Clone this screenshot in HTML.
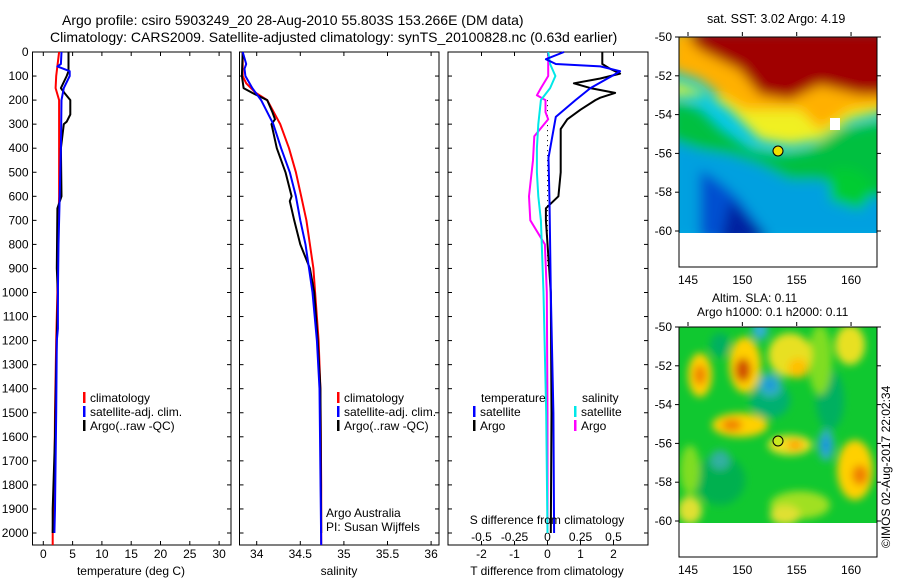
<!DOCTYPE html>
<html><head><meta charset="utf-8">
<style>
html,body{margin:0;padding:0;background:#fff;}
svg{display:block;font-family:"Liberation Sans",sans-serif;font-size:12px;}
</style></head>
<body>
<svg id="fig" width="900" height="580" viewBox="0 0 900 580" xmlns="http://www.w3.org/2000/svg">
<defs>
<filter id="blur6" x="-20%" y="-20%" width="140%" height="140%"><feGaussianBlur stdDeviation="6"/></filter>
<filter id="blur4" x="-20%" y="-20%" width="140%" height="140%"><feGaussianBlur stdDeviation="4"/></filter>
<clipPath id="clipA"><rect x="679" y="37" width="198" height="196"/></clipPath>
<clipPath id="clipB"><rect x="679" y="327" width="198" height="196"/></clipPath>
</defs>
<text x="62" y="25" style="font-size:14px">Argo profile: csiro 5903249_20 28-Aug-2010 55.803S 153.266E (DM data)</text>
<text x="50" y="42" style="font-size:14px">Climatology: CARS2009. Satellite-adjusted climatology: synTS_20100828.nc (0.63d earlier)</text>

<!-- SST map -->
<g>
<text x="707" y="23" style="font-size:12.5px">sat. SST: 3.02  Argo: 4.19</text>
<g clip-path="url(#clipA)">
<rect x="679" y="37" width="198" height="196" fill="#00c8e8"/>
<g filter="url(#blur6)">
<path d="M670 140 L700 150 L730 150 L760 160 L790 170 L830 165 L870 160 L890 150 L890 240 L670 240Z" fill="#00a0e0"/>
<path d="M700 170 Q720 180 740 200 L770 240 L700 240Z" fill="#0050d0"/>
<path d="M730 200 L770 240 L720 245Z" fill="#0020a0"/>
<path d="M670 100 L700 110 L720 130 L750 150 L780 155 L810 150 L840 130 L890 120 L890 200 L850 190 L820 180 L790 180 L760 165 L730 155 L700 150 L670 140Z" fill="#00c040"/>
<path d="M830 170 Q860 160 875 190 L860 210 L830 200Z" fill="#00cc30"/>
<path d="M670 80 L700 90 L730 110 L760 140 L790 145 L820 140 L850 120 L890 110 L890 100 L670 95Z" fill="#f0f020"/>
<path d="M670 30 L890 30 L890 105 L850 110 L820 130 L800 110 L770 110 L745 110 L720 95 L700 80 L670 70Z" fill="#ffb000"/>
<path d="M690 30 L890 30 L890 95 L860 95 L820 85 L790 100 L760 95 L740 70 L720 60 L700 50 L690 40Z" fill="#a00000"/>
</g>
<rect x="830" y="118" width="10" height="12" fill="#fff"/>
</g>
<rect x="679" y="37" width="198" height="230" fill="none" stroke="#000"/>
<circle cx="778" cy="151" r="5" fill="#f0e000" stroke="#000"/>
</g>

<!-- SLA map -->
<g>
<text x="712" y="302">Altim. SLA: 0.11</text>
<text x="697" y="316">Argo h1000: 0.1  h2000: 0.11</text>
<g clip-path="url(#clipB)">
<rect x="679" y="327" width="198" height="196" fill="#10c830"/>
<g filter="url(#blur4)">
<ellipse cx="720" cy="345" rx="10" ry="12" fill="#00b060"/>
<ellipse cx="770" cy="400" rx="20" ry="18" fill="#00b070"/>
<ellipse cx="720" cy="480" rx="25" ry="25" fill="#00b050"/>
<ellipse cx="830" cy="400" rx="14" ry="30" fill="#00b060"/>
<ellipse cx="690" cy="470" rx="10" ry="25" fill="#80dd20"/>
<ellipse cx="820" cy="360" rx="12" ry="35" fill="#80dd20"/>
<ellipse cx="800" cy="505" rx="30" ry="14" fill="#a0e020"/>
<ellipse cx="700" cy="375" rx="12" ry="22" fill="#ffd000"/>
<ellipse cx="700" cy="375" rx="6" ry="10" fill="#f08000"/>
<ellipse cx="745" cy="365" rx="16" ry="28" fill="#ffd000"/>
<ellipse cx="743" cy="370" rx="8" ry="12" fill="#d05000"/>
<ellipse cx="790" cy="355" rx="22" ry="22" fill="#e8e020"/>
<ellipse cx="798" cy="368" rx="10" ry="10" fill="#ffc000"/>
<ellipse cx="770" cy="385" rx="12" ry="12" fill="#30b0c0"/>
<ellipse cx="770" cy="385" rx="5" ry="5" fill="#1090e0"/>
<ellipse cx="760" cy="330" rx="8" ry="10" fill="#30b0d0"/>
<ellipse cx="740" cy="425" rx="28" ry="12" fill="#ffd000"/>
<ellipse cx="732" cy="425" rx="10" ry="6" fill="#f08000"/>
<ellipse cx="790" cy="445" rx="22" ry="10" fill="#f0e020"/>
<ellipse cx="795" cy="445" rx="8" ry="5" fill="#ffa000"/>
<ellipse cx="826" cy="445" rx="8" ry="16" fill="#30b0c0"/>
<ellipse cx="826" cy="445" rx="4" ry="8" fill="#1090e0"/>
<ellipse cx="855" cy="470" rx="18" ry="30" fill="#ffd000"/>
<ellipse cx="860" cy="475" rx="8" ry="10" fill="#f08000"/>
<ellipse cx="850" cy="345" rx="15" ry="20" fill="#e8e020"/>
<ellipse cx="690" cy="510" rx="12" ry="14" fill="#e0e030"/>
<ellipse cx="785" cy="515" rx="15" ry="10" fill="#e0e030"/>
<ellipse cx="720" cy="460" rx="10" ry="10" fill="#30b0a0"/>
</g>
</g>
<rect x="679" y="327" width="198" height="230" fill="none" stroke="#000"/>
<circle cx="778" cy="441" r="5" fill="#c8e820" stroke="#000"/>
<text transform="translate(890,548) rotate(-90)">©IMOS 02-Aug-2017 22:02:34</text>
</g>
<g id="plots"></g>
</svg>
<script>
// ---- data (depth in m) ----
const tempClimDepth=[0,100,150,200,400,600,900,1000,1200,1500,1800,2000,2050];
const tempClimVal=[2.7,2.2,2.1,2.7,2.7,2.7,2.4,2.4,2.2,2.0,1.9,1.6,1.6];
const tempSatDepth=[0,50,60,80,100,150,200,400,600,800,1000,1150,1200,1500,1900,2000];
const tempSatVal=[3.1,3.0,2.4,4.5,4.5,3.5,3.1,3.0,2.8,2.6,2.5,2.5,2.3,2.2,2.0,1.9];
const tempArgoDepth=[0,80,100,150,170,200,260,290,300,400,600,650,900,1000,1300,1600,1900,2000];
const tempArgoVal=[4.3,4.3,4.0,3.0,3.6,4.6,4.6,4.0,3.5,3.0,3.1,2.4,2.3,2.5,2.2,2.0,1.6,1.6];
const salClimDepth=[0,100,130,170,200,300,400,500,600,700,800,900,1000,1200,1400,1800,2050];
const salClimVal=[33.84,33.84,33.88,33.99,34.12,34.27,34.37,34.45,34.51,34.57,34.61,34.65,34.67,34.71,34.73,34.74,34.74];
const salSatDepth=[0,50,70,100,150,200,300,400,500,600,700,800,900,1000,1200,1400,2050];
const salSatVal=[33.84,33.88,33.86,33.87,33.95,34.05,34.19,34.28,34.38,34.45,34.50,34.56,34.60,34.64,34.69,34.72,34.74];
const salArgoDepth=[0,100,150,170,200,250,280,300,400,500,600,620,700,800,900,1000,1200,1400,2000];
const salArgoVal=[33.84,33.83,33.85,33.95,34.12,34.18,34.21,34.17,34.23,34.33,34.40,34.38,34.43,34.50,34.61,34.66,34.70,34.73,34.74];
const dTSatDepth=[0,30,50,60,80,100,150,200,270,440,620,1000,1500,2000];
const dTSatVal=[0.5,-0.05,0.25,1.6,2.2,1.95,1.3,0.85,0.25,0.03,0.06,0.1,0.18,0.2];
const dTArgoDepth=[0,50,70,90,110,130,150,170,190,200,240,280,320,400,500,600,650,700,1000,1500,2000];
const dTArgoVal=[1.66,1.66,1.9,2.2,1.6,0.8,1.3,2.05,1.6,1.45,1.0,0.6,0.4,0.4,0.4,0.33,-0.05,-0.05,0.1,0.12,0.1];
const dSSatDepth=[0,50,100,150,200,300,400,500,600,700,1000,1500,2000];
const dSSatVal=[0.005,0.02,0.06,0.02,-0.05,-0.07,-0.08,-0.08,-0.07,-0.05,-0.03,-0.01,0.0];
const dSArgoDepth=[0,100,150,180,200,250,280,350,450,550,600,700,800,1000,1500,2000];
const dSArgoVal=[0.005,0.005,-0.05,-0.08,-0.015,-0.015,0.005,-0.1,-0.11,-0.13,-0.14,-0.13,-0.02,-0.005,0.0,0.0];
const depthTicks=[0,100,200,300,400,500,600,700,800,900,1000,1100,1200,1300,1400,1500,1600,1700,1800,1900,2000];
const tTicks=[0,5,10,15,20,25,30];
const sTicks=[34,34.5,35,35.5,36];
const dTTicks=[-2,-1,0,1,2];
const dSTicks=[-0.5,-0.25,0,0.25,0.5];
const dSTickLabels=["-0.5","-0.25","0","0.25","0.5"];

const NS="http://www.w3.org/2000/svg";
const root=document.getElementById('plots');
function mk(tag,attrs,parent){const e=document.createElementNS(NS,tag);for(const k in attrs)e.setAttribute(k,attrs[k]);(parent||root).appendChild(e);return e;}
const Y0=52,YB=545;
function yD(d){return Y0+d*0.2405;}
const panels=[
 {x0:32.5,x1:231,fx:v=>43.3+v*5.86},
 {x0:239.5,x1:439,fx:v=>256.7+(v-34)*87.2},
 {x0:448,x1:648,fx:v=>547.5+v*33}
];
const fS=v=>547.5+v*132;

panels.forEach((p,i)=>{
 const r=mk('rect',{x:p.x0,y:Y0,width:p.x1-p.x0,height:YB-Y0,fill:'none',stroke:'#000','stroke-width':1});
 
 
 depthTicks.forEach(d=>{
  const y=yD(d);
  mk('line',{x1:p.x0,x2:p.x0+4,y1:y,y2:y,stroke:'#000'});
  mk('line',{x1:p.x1,x2:p.x1-4,y1:y,y2:y,stroke:'#000'});
  if(i===0){const t=mk('text',{x:p.x0-4,y:y+4,'text-anchor':'end'});t.textContent=d;
   
   }
 });
});
function xTicks(p,ticks,labels,ly){
 ticks.forEach((v,k)=>{const x=p.fx(v);
  mk('line',{x1:x,x2:x,y1:YB,y2:YB-4,stroke:'#000'});
  mk('line',{x1:x,x2:x,y1:Y0,y2:Y0+4,stroke:'#000'});
  const t=mk('text',{x:x,y:ly,'text-anchor':'middle'});t.textContent=labels?labels[k]:String(v);
  
  
 });
}
xTicks(panels[0],tTicks,null,558);
xTicks(panels[1],sTicks,null,558);
xTicks({fx:panels[2].fx},dTTicks,null,558);
dSTicks.forEach((v,k)=>{const t=mk('text',{x:fS(v),y:541,'text-anchor':'middle'});t.textContent=dSTickLabels[k];
 
 });

function series(p,fx,depths,vals,color,name,w){
 const pts=depths.map((d,k)=>fx(vals[k]).toFixed(1)+','+yD(d).toFixed(1)).join(' ');
 const e=mk('polyline',{points:pts,fill:'none',stroke:color,'stroke-width':w||2,'stroke-linejoin':'round'});
 
 
}
const P=panels;
series(P[0],P[0].fx,tempClimDepth,tempClimVal,'#ff0000','temp-climatology-line');
series(P[0],P[0].fx,tempArgoDepth,tempArgoVal,'#000','temp-argo-line');
series(P[0],P[0].fx,tempSatDepth,tempSatVal,'#0000ff','temp-satellite-line');
series(P[1],P[1].fx,salClimDepth,salClimVal,'#ff0000','sal-climatology-line');
series(P[1],P[1].fx,salArgoDepth,salArgoVal,'#000','sal-argo-line');
series(P[1],P[1].fx,salSatDepth,salSatVal,'#0000ff','sal-satellite-line');
const zl=mk('line',{x1:P[2].fx(0),x2:P[2].fx(0),y1:yD(200),y2:yD(900),stroke:'#000','stroke-dasharray':'1,4'});


series(P[2],fS,dSArgoDepth,dSArgoVal,'#ff00ff','s-diff-argo-line');
series(P[2],fS,dSSatDepth,dSSatVal,'#00e8e8','s-diff-satellite-line');
series(P[2],P[2].fx,dTArgoDepth,dTArgoVal,'#000','t-diff-argo-line');
series(P[2],P[2].fx,dTSatDepth,dTSatVal,'#0000ff','t-diff-satellite-line');

function label(x,y,txt,name,anchor){const t=mk('text',{x:x,y:y,'text-anchor':anchor||'start'});t.textContent=txt;
 
 }
function legItem(x,y,color,txt,name){
 const b=mk('rect',{x:x,y:y-10,width:2.5,height:11,fill:color});
 
 
 label(x+7,y,txt,name);
}
legItem(83,402,'#ff0000','climatology','legend-climatology');
legItem(83,416,'#0000ff','satellite-adj. clim.','legend-satellite-adj');
legItem(83,430,'#000','Argo(..raw -QC)','legend-argo');
legItem(337,402,'#ff0000','climatology','legend2-climatology');
legItem(337,416,'#0000ff','satellite-adj. clim.','legend2-satellite-adj');
legItem(337,430,'#000','Argo(..raw -QC)','legend2-argo');
label(481,402,'temperature','legend-temperature-heading');
legItem(473,416,'#0000ff','satellite','legend-t-satellite');
legItem(473,430,'#000','Argo','legend-t-argo');
label(582,402,'salinity','legend-salinity-heading');
legItem(574,416,'#00e8e8','satellite','legend-s-satellite');
legItem(574,430,'#ff00ff','Argo','legend-s-argo');
label(326,517,'Argo Australia','credit-argo-australia');
label(326,531,'PI: Susan Wijffels','credit-pi');
label(131,575,'temperature (deg C)','x-axis-title-temperature','middle');
label(339,575,'salinity','x-axis-title-salinity','middle');
label(547,524,'S difference from climatology','x-axis-title-s-diff','middle');
label(547,575,'T difference from climatology','x-axis-title-t-diff','middle');

// map axes
function mapAxes(top,name){
 const lats=[-50,-52,-54,-56,-58,-60];
 lats.forEach(l=>{const y=top+1+(-50-l)*19.4;
  mk('line',{x1:679,x2:675,y1:y,y2:y,stroke:'#000'});
  mk('line',{x1:877,x2:881,y1:y,y2:y,stroke:'#000'});
  const t=mk('text',{x:672,y:y+4,'text-anchor':'end'});t.textContent=l;
  
  });
 [145,150,155,160].forEach(lo=>{const x=688+(lo-145)*10.87;
  mk('line',{x1:x,x2:x,y1:top,y2:top-4,stroke:'#000'});
  const t=mk('text',{x:x,y:top+248,'text-anchor':'middle'});t.textContent=lo;
  
  });
}
mapAxes(36,'sst-map');
mapAxes(326,'sla-map');
</script>
</body></html>
